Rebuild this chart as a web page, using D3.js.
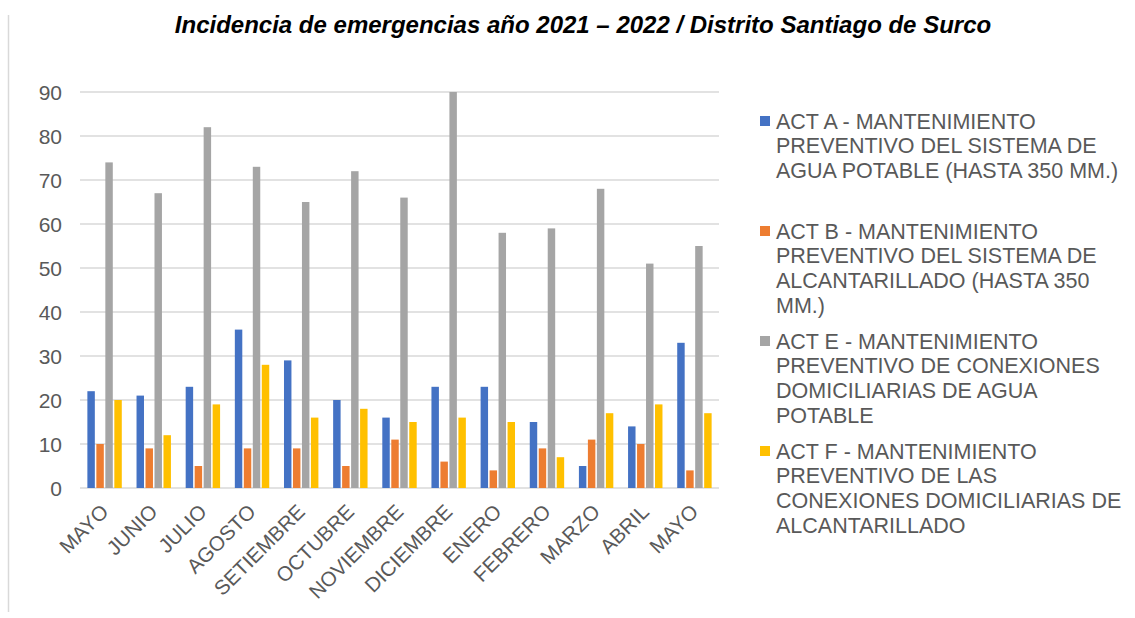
<!DOCTYPE html>
<html><head><meta charset="utf-8">
<script src="https://cdn.jsdelivr.net/npm/d3@7"></script>
<style>body{margin:0;background:#fff;} text{font-family:Arial,"Liberation Sans",sans-serif;}</style>
</head><body><svg id="c" width="1135" height="618"></svg>
<script>
const categories = ["MAYO","JUNIO","JULIO","AGOSTO","SETIEMBRE","OCTUBRE","NOVIEMBRE","DICIEMBRE","ENERO","FEBRERO","MARZO","ABRIL","MAYO"];
const actA = [22,21,23,36,29,20,16,23,23,15,5,14,33];
const actB = [10,9,5,9,9,5,11,6,4,9,11,10,4];
const actE = [74,67,82,73,65,72,66,90,58,59,68,51,55];
const actF = [20,12,19,28,16,18,15,16,15,7,17,19,17];
const seriesNames = ["ACT A","ACT B","ACT E","ACT F"];
const legendLines = [
  ["ACT A - MANTENIMIENTO","PREVENTIVO DEL SISTEMA DE","AGUA POTABLE (HASTA 350 MM.)"],
  ["ACT B - MANTENIMIENTO","PREVENTIVO DEL SISTEMA DE","ALCANTARILLADO (HASTA 350","MM.)"],
  ["ACT E - MANTENIMIENTO","PREVENTIVO DE CONEXIONES","DOMICILIARIAS DE AGUA","POTABLE"],
  ["ACT F - MANTENIMIENTO","PREVENTIVO DE LAS","CONEXIONES DOMICILIARIAS DE","ALCANTARILLADO"]
];
const colors = ["#4472C4","#ED7D31","#A5A5A5","#FFC000"];
const yTicks = [0,10,20,30,40,50,60,70,80,90];
const title = "Incidencia de emergencias año 2021 – 2022 / Distrito Santiago de Surco";

const seriesVals = [actA, actB, actE, actF];
const svg = d3.select("#c");
const txt = "#595959";

// chart border (left edge visible)
svg.append("line").attr("x1",8.5).attr("x2",8.5).attr("y1",15).attr("y2",612)
  .attr("stroke","#d9d9d9").attr("stroke-width",1.5);

svg.append("text").attr("x",583).attr("y",33).attr("text-anchor","middle")
  .attr("font-size",24).attr("font-weight","bold").attr("font-style","italic").attr("fill","#000")
  .text(title);

const x0 = d3.scaleBand().domain(d3.range(categories.length)).range([80,719]).paddingInner(0.3).paddingOuter(0.15);
const x1 = d3.scaleBand().domain(seriesNames).range([0,x0.bandwidth()]).paddingInner(0.17);
const y = d3.scaleLinear().domain([0,90]).range([488,92]);

// gridlines
svg.append("g").selectAll("line").data(yTicks).join("line")
  .attr("x1",80).attr("x2",719).attr("y1",d=>y(d)).attr("y2",d=>y(d))
  .attr("stroke","#d9d9d9").attr("stroke-width",1.3);

// y labels
svg.append("g").selectAll("text").data(yTicks).join("text")
  .attr("x",62).attr("y",d=>y(d)).attr("dy","0.36em").attr("text-anchor","end")
  .attr("font-size",21).attr("fill",txt).text(d=>d);

// bars
const g = svg.append("g");
categories.forEach((c,i)=>{
  seriesNames.forEach((s,j)=>{
    const v = seriesVals[j][i];
    g.append("rect").attr("x",x0(i)+x1(s)).attr("width",x1.bandwidth())
      .attr("y",y(v)).attr("height",y(0)-y(v)).attr("fill",colors[j]);
  });
});

// x labels
svg.append("g").selectAll("text").data(categories).join("text")
  .attr("transform",(d,i)=>`translate(${x0(i)+x0.bandwidth()/2},508) rotate(-45)`)
  .attr("text-anchor","end").attr("dy","0.35em")
  .attr("font-size",20.5).attr("fill",txt).text(d=>d);

// legend
const lg = svg.append("g");
legendLines.forEach((lines,k)=>{
  const cy = 121 + k*110;
  lg.append("rect").attr("x",760).attr("y",cy-5).attr("width",10).attr("height",10).attr("fill",colors[k]);
  lines.forEach((ln,m)=>{
    lg.append("text").attr("x",776).attr("y",cy + m*24.6).attr("dy","0.36em")
      .attr("font-size",21.5).attr("fill",txt).text(ln);
  });
});
</script></body></html>
